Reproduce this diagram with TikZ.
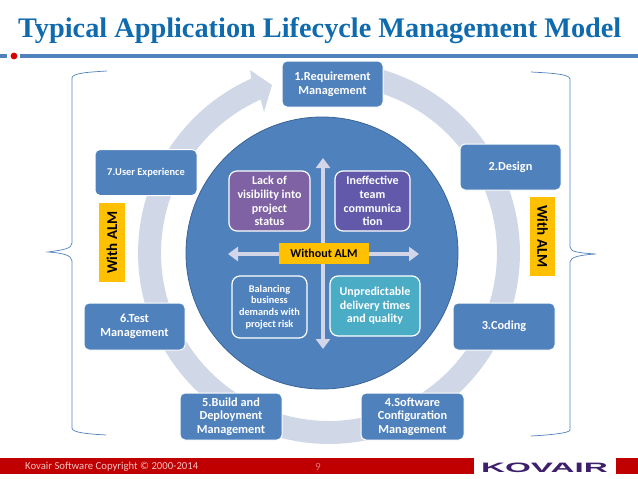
\documentclass[tikz,border=0pt]{standalone}
\usepackage{fontspec}
\setmainfont{Carlito}
\newfontfamily\titlefont{Liberation Serif}
\newfontfamily\logofont{Liberation Sans}
\usetikzlibrary{arrows.meta}
\definecolor{almblue}{HTML}{4F81BD}
\definecolor{almedge}{HTML}{3A6496}
\definecolor{almring}{HTML}{D0D8E8}
\definecolor{almtitle}{HTML}{0F6BAE}
\definecolor{almarrow}{HTML}{D3D5E8}
\definecolor{almyellow}{HTML}{FFC000}
\definecolor{almred}{HTML}{C00000}
\definecolor{almpurple}{HTML}{7F62A3}
\definecolor{almindigo}{HTML}{6259AB}
\definecolor{almteal}{HTML}{4BACC6}
\definecolor{almfoot}{HTML}{F2C4C4}
\definecolor{almlogo}{HTML}{3D1F6B}
\tikzset{
  stage/.style={rectangle,rounded corners=5pt,fill=almblue,draw=white,line width=1pt,text=white,
    align=center,inner sep=0pt,font=\fontsize{12.3}{13.7}\selectfont\bfseries},
  issue/.style={rectangle,rounded corners=8pt,draw=white,line width=1.2pt,text=white,
    align=center,inner sep=0pt,font=\fontsize{12}{13.7}\selectfont\bfseries},
  tag/.style={rectangle,fill=almyellow,text=black,inner sep=0pt,font=\fontsize{15}{16}\selectfont\bfseries},
  brace/.style={draw=almblue,line width=0.7pt},
  axisarrow/.style={draw=almarrow,line width=4.5pt,{Triangle[length=10pt,width=14pt]}-{Triangle[length=10pt,width=14pt]}},
}
\begin{document}
\begin{tikzpicture}[x=1pt,y=-1pt]
\useasboundingbox (0,0) rectangle (638,479);
% title and rule
\node[anchor=base west,inner sep=0pt,text=almtitle,font=\fontsize{28.3}{30}\selectfont\titlefont\bfseries] (title) at (18,37.5) {Typical Application Lifecycle Management Model};
\coordinate (ruleA) at (0,56);
\coordinate (ruleB) at (7,56);
\coordinate (ruleC) at (20,56);
\coordinate (ruleD) at (638,56);
\draw[almblue,line width=3.2pt] (ruleA) -- (ruleB) (ruleC) -- (ruleD);
\fill[red!85!black] (14,56) circle[radius=3.4];
% ring with arrowhead
\coordinate (wingA) at (250,70);
\coordinate (ringTip) at (272,85);
\coordinate (wingB) at (264,112);
\fill[almring,shift={(329,253)}] plot[domain=-75:246,samples=120] (\x:191) -- (wingA) -- (ringTip) -- (wingB) -- plot[domain=246:-75,samples=120] (\x:168) -- cycle;
% centre circle
\node[circle,minimum size=272pt,inner sep=0pt,fill=almblue,draw=almedge,line width=0.8pt] (core) at (322,253) {};
% stages
\node[stage,minimum width=101pt,minimum height=46pt] (s1) at (332.5,84) {1.Requirement\\Management};
\node[stage,minimum width=101pt,minimum height=46pt] (s2) at (510.5,167) {2.Design};
\node[stage,minimum width=102pt,minimum height=47pt] (s3) at (504,326.5) {3.Coding};
\node[stage,minimum width=103pt,minimum height=47pt] (s4) at (412.5,416.5) {4.Software\\Configuration\\Management};
\node[stage,minimum width=102pt,minimum height=47pt] (s5) at (231,416.5) {5.Build and\\Deployment\\Management};
\node[stage,minimum width=101pt,minimum height=47pt] (s6) at (134.5,326.5) {6.Test\\Management};
\node[stage,minimum width=102pt,minimum height=46pt,font=\fontsize{10.4}{13}\selectfont\bfseries] (s7) at (146,172.5) {7.User Experience};
% axis arrows
\coordinate (axL) at (228,254);
\coordinate (axR) at (419,254);
\coordinate (axT) at (323,158);
\coordinate (axB) at (323,349);
\draw[axisarrow] (axL) -- (axR);
\draw[axisarrow] (axT) -- (axB);
\node[tag,minimum width=90pt,minimum height=21pt,font=\fontsize{12}{13}\selectfont\bfseries] (noalm) at (324,253.5) {Without ALM};
% issues
\node[issue,fill=almpurple,minimum width=81pt,minimum height=60pt] (i1) at (269.5,201) {Lack of\\visibility into\\project\\status};
\node[issue,fill=almindigo,minimum width=75pt,minimum height=60pt] (i2) at (372.5,201) {Ineffective\\team\\communica\\tion};
\node[issue,fill=almblue,minimum width=75pt,minimum height=62pt,font=\fontsize{10.3}{11.7}\selectfont\bfseries] (i3) at (269.5,307) {Balancing\\business\\demands with\\project risk};
\node[issue,fill=almteal,minimum width=90pt,minimum height=60pt] (i4) at (375,306) {Unpredictable\\delivery times\\and quality};
% side tags
\node[tag,minimum width=26pt,minimum height=79pt] (tagL) at (112,242.5) {\rotatebox{90}{With ALM}};
\node[tag,minimum width=25pt,minimum height=79pt] (tagR) at (542.5,236.5) {\rotatebox{-90}{With ALM}};
% braces
\draw[brace] (107,71) .. controls (90,72) and (72,73) .. (72,78) -- (72,243)
  .. controls (72,249) and (62,250) .. (48,252) .. controls (62,253) and (72,255) .. (72,261) -- (72,428)
  .. controls (72,433) and (90,434) .. (106,435);
\draw[brace] (531,72) .. controls (550,73) and (570,74) .. (570,79) -- (570,247)
  .. controls (570,252) and (580,253) .. (596,254) .. controls (580,255) and (570,257) .. (570,262) -- (570,430)
  .. controls (570,433) and (550,435) .. (531,436);
% footer
\fill[almred] (0,458) rectangle (638,474);
\fill[white] (474,458) rectangle (616,474);
\node[anchor=west,inner sep=0pt,text=almfoot,font=\fontsize{10.7}{13}\selectfont] (foot) at (25,467) {Kovair Software Copyright © 2000-2014};
\node[inner sep=0pt,text=almfoot!60!almred,font=\fontsize{11}{13}\selectfont] (page) at (318,466.5) {9};
\node[inner sep=0pt,text=almlogo] (logo) at (544.5,467.5) {\resizebox{127pt}{9.5pt}{\logofont\bfseries KOVAIR}};
\end{tikzpicture}
\end{document}
